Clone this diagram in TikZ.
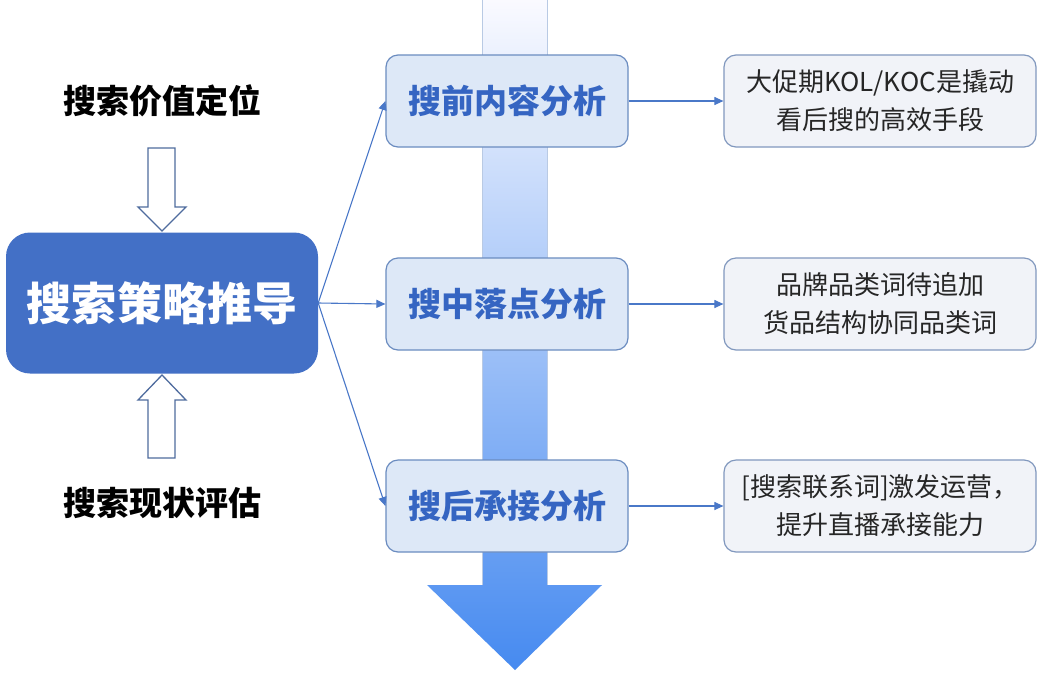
\documentclass[tikz,border=0pt]{standalone}
\usepackage{fontspec}
\setmainfont{Noto Sans CJK SC}
\usetikzlibrary{arrows.meta,shadings}
\definecolor{mainblue}{HTML}{4370C6}
\definecolor{midfill}{HTML}{DDE8F7}
\definecolor{midline}{HTML}{6B8CC0}
\definecolor{midtext}{HTML}{3565C2}
\definecolor{rfill}{HTML}{F1F3F8}
\definecolor{rline}{HTML}{8198BE}
\definecolor{conn}{HTML}{4A78C8}
\definecolor{hollow}{HTML}{4F6C9E}
\tikzset{
  mainbox/.style={draw=none, fill=mainblue, rounded corners=24pt, minimum width=312pt, minimum height=141pt, text=white, font=\fontsize{45}{50}\selectfont\bfseries},
  midbox/.style={draw=midline, line width=1.2pt, fill=midfill, rounded corners=12pt, minimum width=242pt, minimum height=92pt, text=midtext, font=\fontsize{33}{38}\selectfont\bfseries},
  rbox/.style={draw=rline, line width=1.2pt, fill=rfill, rounded corners=12pt, minimum width=312pt, minimum height=92pt, text=black!85, align=center, font=\fontsize{26}{38}\selectfont},
  sidelabel/.style={text=black, font=\fontsize{33}{38}\selectfont\bfseries},
  conline/.style={draw=conn, line width=1.1pt, -{Triangle[length=9pt,width=8pt]}},
  hollowarrow/.style={draw=hollow, line width=1.3pt, fill=white}
}
\begin{document}
\begin{tikzpicture}[x=1pt,y=-1pt]
\useasboundingbox (0,0) rectangle (1049,673);
\fill[white] (0,0) rectangle (1049,673);
% big gradient arrow
\shade[top color=blue!2!white, middle color={rgb,255:red,176;green,204;blue,245}, bottom color={rgb,255:red,70;green,138;blue,240}]
  (482,0) -- (547,0) -- (547,585) -- (602,585) -- (515,670) -- (427,585) -- (482,585) -- cycle;
\draw[color={rgb,255:red,185;green,202;blue,228}, line width=0.8pt] (482,0) -- (482,585) (547,0) -- (547,585);
% hollow arrows
\draw[hollowarrow] (148,148) -- (175,148) -- (175,207) -- (186,207) -- (162,231) -- (138,207) -- (148,207) -- cycle;
\draw[hollowarrow] (162,375) -- (186,400) -- (175,400) -- (175,458) -- (148,458) -- (148,400) -- (138,400) -- cycle;
% labels
\node[sidelabel] (top) at (162,101) {搜索价值定位};
\node[sidelabel] (bot) at (162,503) {搜索现状评估};
% main box
\node[mainbox] (main) at (162,303) {搜索策略推导};
% middle boxes
\node[midbox] (m1) at (507,101) {搜前内容分析};
\node[midbox] (m2) at (507,304) {搜中落点分析};
\node[midbox] (m3) at (507,506) {搜后承接分析};
% right boxes
\node[rbox] (r1) at (880,101) {大促期KOL/KOC是撬动\\看后搜的高效手段};
\node[rbox] (r2) at (880,304) {品牌品类词待追加\\货品结构协同品类词};
\node[rbox] (r3) at (880,506) {[搜索联系词]激发运营，\\提升直播承接能力};
% connectors
\draw[conline] (main.east) -- (m1.west);
\draw[conline] (main.east) -- (m2.west);
\draw[conline] (main.east) -- (m3.west);
\draw[conline] (m1.east) -- (r1.west);
\draw[conline] (m2.east) -- (r2.west);
\draw[conline] (m3.east) -- (r3.west);
\end{tikzpicture}
\end{document}
